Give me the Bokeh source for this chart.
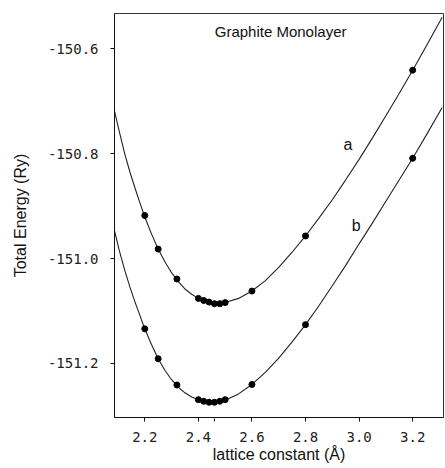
from bokeh.plotting import figure
from bokeh.models import FixedTicker, Label, Range1d, Arrow, VeeHead
from bokeh.embed import file_html
from bokeh.resources import INLINE

# measured data points
lattice_pts = [2.20, 2.25, 2.32, 2.40, 2.42, 2.44, 2.46, 2.48, 2.50, 2.60, 2.80, 3.20]
energy_a_pts = [-150.918, -150.982, -151.039, -151.076, -151.080, -151.083,
                -151.086, -151.086, -151.084, -151.062, -150.957, -150.641]
energy_b_pts = [-151.134, -151.191, -151.241, -151.269, -151.272, -151.274,
                -151.274, -151.272, -151.269, -151.240, -151.126, -150.809]

# fitted curves
lattice_curve = [2.087, 2.105, 2.125, 2.145, 2.165, 2.18, 2.20, 2.225, 2.25, 2.275,
                 2.30, 2.325, 2.35, 2.375, 2.40, 2.425, 2.45, 2.475, 2.50, 2.55,
                 2.60, 2.65, 2.70, 2.75, 2.80, 2.85, 2.90, 2.95, 3.00, 3.05,
                 3.10, 3.15, 3.20, 3.255, 3.31]
energy_a_curve = [-150.719, -150.758, -150.800, -150.836, -150.868, -150.891, -150.921,
                  -150.953, -150.982, -151.006, -151.027, -151.044, -151.058, -151.068,
                  -151.076, -151.081, -151.085, -151.086, -151.084, -151.076, -151.062,
                  -151.042, -151.017, -150.988, -150.957, -150.923, -150.888, -150.850,
                  -150.811, -150.770, -150.728, -150.685, -150.641, -150.591, -150.540]
energy_b_curve = [-150.947, -150.985, -151.022, -151.055, -151.085, -151.106, -151.134,
                  -151.164, -151.191, -151.213, -151.231, -151.245, -151.256, -151.264,
                  -151.269, -151.273, -151.274, -151.273, -151.270, -151.258, -151.240,
                  -151.217, -151.190, -151.159, -151.126, -151.090, -151.052, -151.013,
                  -150.972, -150.932, -150.891, -150.850, -150.809, -150.761, -150.712]

x_ticks = [2.2, 2.4, 2.6, 2.8, 3.0, 3.2]
x_tick_labels = ["2.2", "2.4", "2.6", "2.8", "3.0", "3.2"]
y_ticks = [-150.6, -150.8, -151.0, -151.2]
y_tick_labels = ["-150.6", "-150.8", "-151.0", "-151.2"]

eq_lattice = 2.46
title_text = "Graphite Monolayer"
title_pos = (2.707, -150.567)
curve_names = ["a", "b"]
curve_label_pos = [(2.958, -150.782), (2.989, -150.938)]

y_lo, y_hi = -151.303, -150.533

p = figure(width=445, height=466, output_backend="svg", toolbar_location=None,
           x_range=Range1d(2.087, 3.315), y_range=Range1d(y_lo, y_hi),
           min_border_left=114, min_border_right=2, min_border_top=13, min_border_bottom=49)

p.xgrid.visible = False
p.ygrid.visible = False
p.outline_line_color = "#333333"
p.outline_line_width = 1
p.background_fill_color = "white"
p.border_fill_color = "white"

for ax in (p.xaxis[0], p.yaxis[0]):
    ax.axis_line_color = "#111111"
    ax.axis_line_width = 1
    ax.major_tick_line_color = "#111111"
    ax.major_tick_in = 0
    ax.major_tick_out = 4
    ax.minor_tick_line_color = None
    ax.major_label_text_font = "DejaVu Sans Mono"
    ax.major_label_text_font_size = "14px"
    ax.major_label_text_color = "#222222"
    ax.axis_label_text_font = "Liberation Sans"
    ax.axis_label_text_font_size = "16px"
    ax.axis_label_text_font_style = "normal"
    ax.axis_label_text_color = "#111111"

p.xaxis[0].ticker = FixedTicker(ticks=x_ticks)
p.xaxis[0].major_label_overrides = dict(zip(x_ticks, x_tick_labels))
p.yaxis[0].ticker = FixedTicker(ticks=y_ticks)
p.yaxis[0].major_label_overrides = dict(zip(y_ticks, y_tick_labels))
p.xaxis[0].axis_label = "lattice constant (Å)"
p.yaxis[0].axis_label = "Total Energy (Ry)"
p.xaxis[0].major_label_standoff = 10
p.yaxis[0].major_label_standoff = 12
p.xaxis[0].axis_label_standoff = 1
p.yaxis[0].axis_label_standoff = 16

p.line(lattice_curve, energy_a_curve, line_color="#222222", line_width=1.1)
p.line(lattice_curve, energy_b_curve, line_color="#222222", line_width=1.1)
p.scatter(lattice_pts, energy_a_pts, size=6, color="black")
p.scatter(lattice_pts, energy_b_pts, size=6, color="black")

p.add_layout(Label(x=title_pos[0], y=title_pos[1], text=title_text,
                   text_font="Liberation Sans", text_font_size="15px",
                   text_align="center", text_baseline="middle", text_color="#111111"))
for name, (lx, ly) in zip(curve_names, curve_label_pos):
    p.add_layout(Label(x=lx, y=ly, text=name, text_font="Liberation Sans",
                       text_font_size="16px", text_align="center",
                       text_baseline="middle", text_color="#111111"))

# equilibrium marker below the axis (pixel offsets from the frame bottom)
p.add_layout(Arrow(end=VeeHead(size=5, line_color="black", line_width=1,
                               fill_color="black"),
                   x_start=eq_lattice, x_end=eq_lattice,
                   y_start=y_lo - 16 / 525, y_end=y_lo - 1 / 525,
                   line_color="black", line_width=1, level="overlay"))

html = file_html(p, INLINE)
open("out.html", "w").write(html)
